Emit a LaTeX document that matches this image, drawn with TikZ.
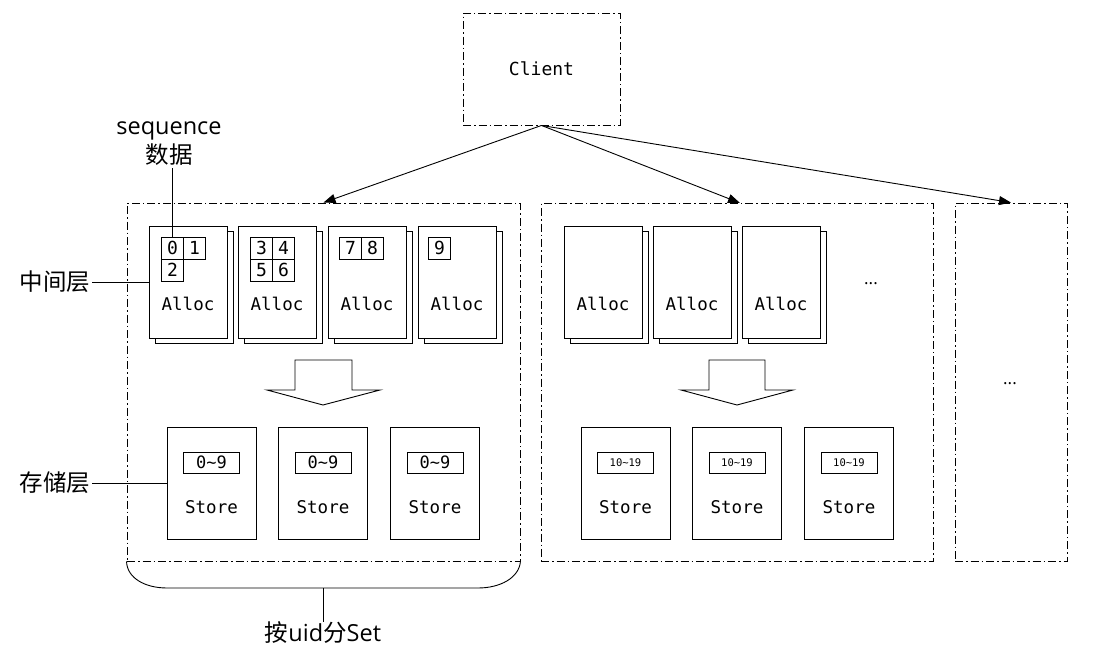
\documentclass[tikz,border=0pt]{standalone}
\usepackage{fontspec}
\setmainfont{Open Sans}
\setmonofont{DejaVu Sans Mono}
\newfontfamily\cjk{Noto Sans CJK SC}
\usetikzlibrary{arrows.meta}
\begin{document}
\begin{tikzpicture}[x=1pt,y=-1pt,
  line width=0.9pt,
  dashdot/.style={draw, dash pattern=on 8pt off 3pt on 1.5pt off 3pt},
  setbox/.style={dashdot, inner sep=0pt},
  allocbox/.style={draw, fill=white, minimum width=78pt, minimum height=112pt, inner sep=0pt},
  cellbox/.style={draw, minimum size=22pt, inner sep=0pt, font=\fontsize{18}{20}\ttfamily},
  storebox/.style={draw, minimum width=89pt, minimum height=112pt, inner sep=0pt},
  rangebox/.style={draw, minimum width=56pt, minimum height=21pt, inner sep=0pt},
  monotext/.style={inner sep=0pt, font=\fontsize{17.5}{20}\ttfamily},
  labeltext/.style={inner sep=0pt, font=\fontsize{23.5}{27}\selectfont},
  dotstext/.style={inner sep=0pt, font=\fontsize{17}{19}\selectfont},
  arr/.style={-{Triangle[length=12pt,width=9pt]}},
  blockarrow/.style={draw, fill=white, line width=0.9pt}
]
\useasboundingbox (0,0) rectangle (1096,653);

% client and set boxes
\node[setbox, minimum width=157pt, minimum height=112pt] (client) at (541.5,69) {};
\node[inner sep=0pt, font=\fontsize{18}{20}\ttfamily] (clienttext) at (541.5,69) {Client};
\node[setbox, minimum width=393pt, minimum height=358pt] (setA) at (323.5,382) {};
\node[setbox, minimum width=392pt, minimum height=358pt] (setB) at (737,382) {};
\node[setbox, minimum width=112pt, minimum height=358pt] (setC) at (1011,382) {};

\draw[arr] (client.south) -- (setA.north);
\draw[arr] (client.south) -- (740,203) coordinate (tipB);
\draw[arr] (client.south) -- (setC.north);

% alloc boxes
\foreach \n/\x in {a1/149,a2/238,a3/328,a4/418,b1/564,b2/653,b3/742}{
  \node[allocbox] (\n s) at (\x+45,287.5) {};
  \node[allocbox] (\n) at (\x+39,282) {};
  \node[monotext] (\n t) at (\x+39,304) {Alloc};
}

% cells
\node[cellbox] (c0) at (172.5,248) {0};
\node[cellbox] (c1) at (194.5,248) {1};
\node[cellbox] (c2) at (172.5,270) {2};
\node[cellbox] (c3) at (261.5,248) {3};
\node[cellbox] (c4) at (283.5,248) {4};
\node[cellbox] (c5) at (261.5,270) {5};
\node[cellbox] (c6) at (283.5,270) {6};
\node[cellbox] (c7) at (350.5,248) {7};
\node[cellbox] (c8) at (372.5,248) {8};
\node[cellbox] (c9) at (439.5,248) {9};

\node[dotstext, anchor=base] (dotsB) at (871,284) {...};
\node[dotstext, anchor=base] (dotsC) at (1010,384) {...};

% block arrows
\draw[blockarrow] (295,360) -- (352,360) -- (352,390) -- (380,390) -- (323,405) -- (267,390) -- (295,390) -- cycle;
\draw[blockarrow] (709,360) -- (765,360) -- (765,390) -- (793,390) -- (737,405) -- (681,390) -- (709,390) -- cycle;

% store boxes
\foreach \n/\x in {s1/211.5,s2/323,s3/435}{
  \node[storebox] (\n) at (\x,483) {};
  \node[rangebox, font=\fontsize{17}{18}\ttfamily] (\n r) at (\x,462.5) {0\char`\~9};
  \node[monotext] (\n t) at (\x,507) {Store};
}
\foreach \n/\x in {t1/625.5,t2/737,t3/849}{
  \node[storebox] (\n) at (\x,483) {};
  \node[rangebox, font=\fontsize{10.5}{12}\ttfamily] (\n r) at (\x,462.5) {10\char`\~19};
  \node[monotext] (\n t) at (\x,507) {Store};
}

% labels
\node[labeltext] (seq) at (169,131) {sequence};
\node[labeltext] (data) at (169,155) {\cjk 数据};
\draw (c0.north |- 0,168) -- (c0.north);
\node[labeltext] (mid) at (55,282) {\cjk 中间层};
\draw (92,282) -- (a1.west);
\node[labeltext] (store) at (55,483) {\cjk 存储层};
\draw (92,483) -- (s1.west);

% brace
\draw (setA.south west) .. controls (127,578) and (145,588) .. (167,588) -- (478,588) .. controls (500,588) and (519,578) .. (setA.south east);
\node[labeltext] (uid) at (323,633) {{\cjk 按}uid{\cjk 分}Set};
\draw (323,588) -- (uid.north);
\end{tikzpicture}
\end{document}
